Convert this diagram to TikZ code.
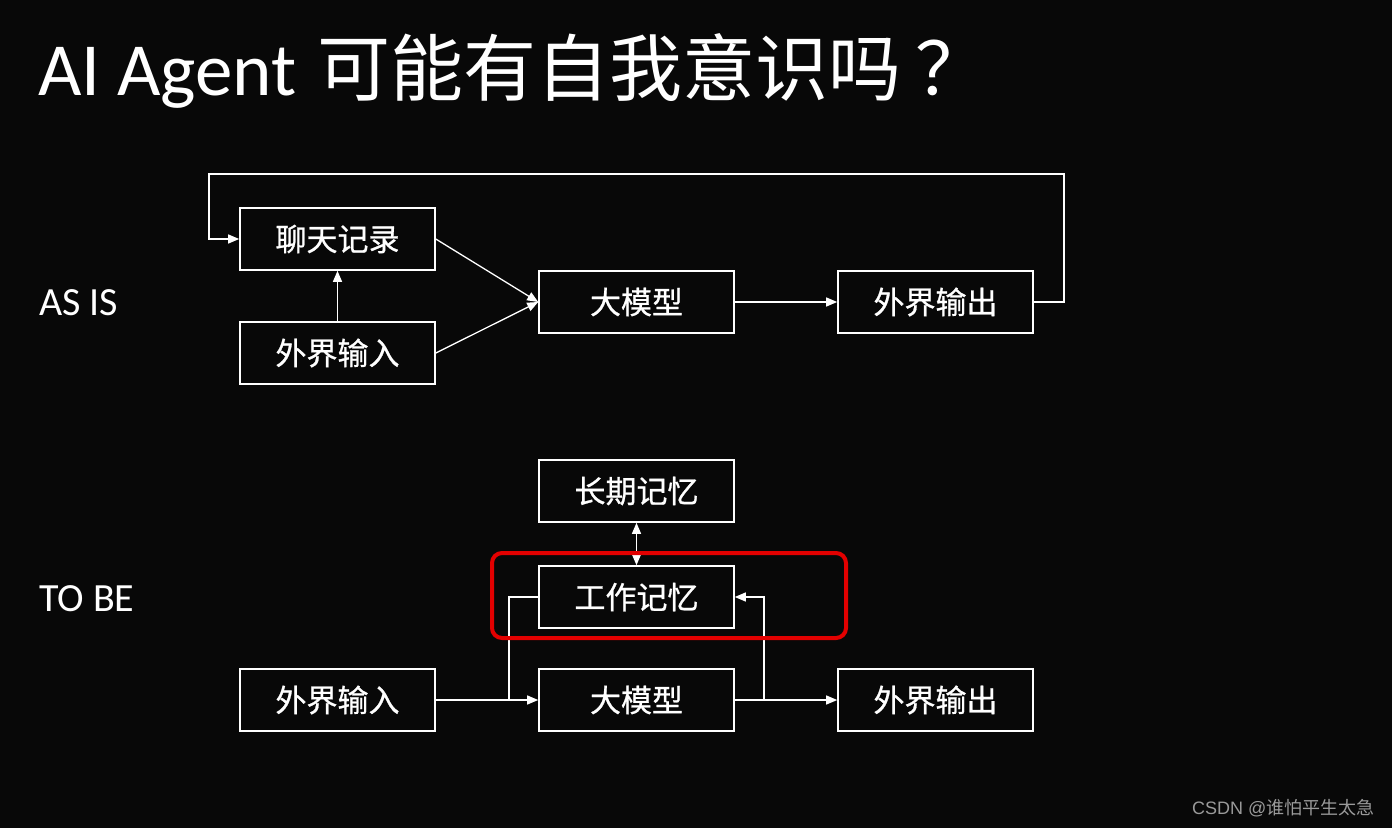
\documentclass[tikz,border=0pt]{standalone}
\usepackage{fontspec}
\setmainfont{Carlito}
\newfontfamily\cjk{Noto Sans CJK SC}
\newfontfamily\cjkbox{Noto Sans CJK SC}[FakeBold=0.8]
\newfontfamily\wmfont{Liberation Sans}
\usetikzlibrary{arrows.meta}
\definecolor{bg}{HTML}{080808}
\definecolor{mark}{HTML}{9A9A9A}
\definecolor{hilite}{HTML}{E30000}
\tikzset{
  box/.style={draw=white,line width=1.6pt,minimum width=195pt,minimum height=62pt,
    inner sep=0pt,text=white,font=\cjkbox\fontsize{31}{31}\selectfont},
  wire/.style={white,line width=1.3pt},
  tip/.tip={Triangle[length=11pt,width=9pt]},
  arr/.style={wire,-tip},
  side/.style={anchor=base west,inner sep=0pt,text=white,font=\fontsize{40}{40}\selectfont},
}
\begin{document}
\begin{tikzpicture}[x=1pt,y=-1pt]
\fill[bg] (0,0) rectangle (1392,828);
\node[anchor=base west,text=white,inner sep=0pt,font=\fontsize{75}{75}\selectfont] (title) at (38,95) {AI Agent\hspace{4pt} {\cjk\fontsize{73}{73}\selectfont 可能有自我意识吗\hspace{14pt}？}};
\node[side] (asis) at (39,315) {AS IS};
\node[side] (tobe) at (39,611) {TO BE};
% AS IS
\node[box] (chat) at (337.5,239) {聊天记录};
\node[box] (in1) at (337.5,353) {外界输入};
\node[box] (llm1) at (636.5,302) {大模型};
\node[box] (out1) at (935.5,302) {外界输出};
\draw[arr] (in1) -- (chat);
\draw[arr] (chat.east) -- (llm1.west);
\draw[arr] (in1.east) -- (llm1.west);
\draw[arr] (llm1) -- (out1);
\coordinate (loopR) at (1064,174);
\coordinate (loopL) at (209,174);
\draw[arr] (out1.east) -| (loopR) -- (loopL) |- (chat.west);
% TO BE
\node[box] (long) at (636.5,491) {长期记忆};
\node[box] (work) at (636.5,597) {工作记忆};
\node[box] (in2) at (337.5,700) {外界输入};
\node[box] (llm2) at (636.5,700) {大模型};
\node[box] (out2) at (935.5,700) {外界输出};
\draw[wire,tip-tip] (long) -- (work);
\draw[arr] (in2) -- (llm2);
\draw[arr] (llm2) -- (out2);
\coordinate (joinL) at (509,700);
\coordinate (joinR) at (764,700);
\draw[wire] (work.west) -| (joinL);
\draw[arr] (joinR) |- (work.east);
\draw[hilite,line width=4pt,rounded corners=10pt] (492,553) rectangle (846,638);
\node[anchor=east,text=mark,font=\fontsize{18}{18}\selectfont] (credit) at (1378,808) {\wmfont CSDN @\cjk 谁怕平生太急};
\end{tikzpicture}
\end{document}
